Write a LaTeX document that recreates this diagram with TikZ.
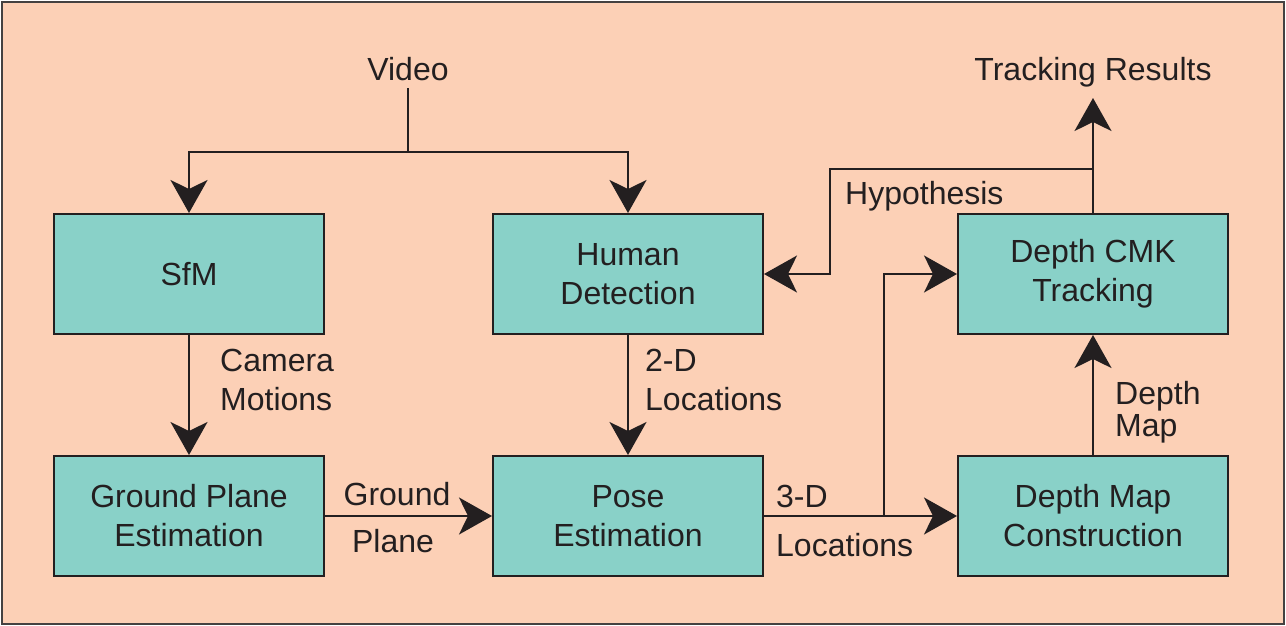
\documentclass[tikz,border=0pt]{standalone}
\usepackage{fontspec}
\setmainfont{Liberation Sans}
\usetikzlibrary{arrows.meta}
\definecolor{bgpeach}{RGB}{252,208,182}
\definecolor{boxteal}{RGB}{137,209,200}
\definecolor{ink}{RGB}{35,31,32}
\tikzset{
  procbox/.style={draw=ink, line width=2pt, fill=boxteal, minimum width=270pt, minimum height=120pt, align=center, text=ink, font=\fontsize{32}{39}\selectfont},
  lbl/.style={inner sep=0pt, text=ink, font=\fontsize{32}{39}\selectfont},
  conn/.style={draw=ink, line width=2pt},
  arr/.style={conn, -{Stealth[length=33pt, width=37pt, inset=9pt]}}
}
\begin{document}
\begin{tikzpicture}[x=1pt, y=-1pt]
\useasboundingbox (0,0) rectangle (1286,625);
\draw[fill=bgpeach, draw=ink!85, line width=2pt] (1.5,1.5) rectangle (1284,623.5);

\node[procbox] (sfm) at (189,274) {SfM};
\node[procbox] (hd) at (628,274) {Human\\Detection};
\node[procbox] (cmk) at (1093,274) {Depth CMK\\Tracking};
\node[procbox] (gpe) at (189,516) {Ground Plane\\Estimation};
\node[procbox] (pe) at (628,516) {Pose\\Estimation};
\node[procbox] (dmc) at (1093,516) {Depth Map\\Construction};

\node[lbl, anchor=base] (video) at (408,80) {Video};
\node[lbl, anchor=base] (tr) at (1093,80) {Tracking Results};
\node[lbl, anchor=base west] (hyp) at (845,204) {Hypothesis};
\node[lbl, anchor=base west] (cam1) at (220,371) {Camera};
\node[lbl, anchor=base west] (cam2) at (220,410) {Motions};
\node[lbl, anchor=base west] (loc1) at (645,371) {2-D};
\node[lbl, anchor=base west] (loc2) at (645,410) {Locations};
\node[lbl, anchor=base] (gp1) at (397,505) {Ground};
\node[lbl, anchor=base] (gp2) at (393,552) {Plane};
\node[lbl, anchor=base west] (td1) at (776,507) {3-D};
\node[lbl, anchor=base west] (td2) at (776,556) {Locations};
\node[lbl, anchor=base west] (dm1) at (1115,404) {Depth};
\node[lbl, anchor=base west] (dm2) at (1115,436) {Map};

\coordinate (vj) at (408,152);
\coordinate (br) at (884,516);
\coordinate (h1) at (1093,169);
\coordinate (h2) at (830,169);
\coordinate (trtip) at (1093,98);

\draw[conn] (408,88) -- (vj);
\draw[arr] (vj) -| (sfm.north);
\draw[arr] (vj) -| (hd.north);
\draw[arr] (sfm.south) -- (gpe.north);
\draw[arr] (hd.south) -- (pe.north);
\draw[arr] (gpe.east) -- (pe.west);
\draw[arr] (pe.east) -- (dmc.west);
\draw[arr] (br) |- (cmk.west);
\draw[arr] (dmc.north) -- (cmk.south);
\draw[arr] (cmk.north) -- (trtip);
\draw[arr] (h1) -- (h2) |- (hd.east);
\end{tikzpicture}
\end{document}
